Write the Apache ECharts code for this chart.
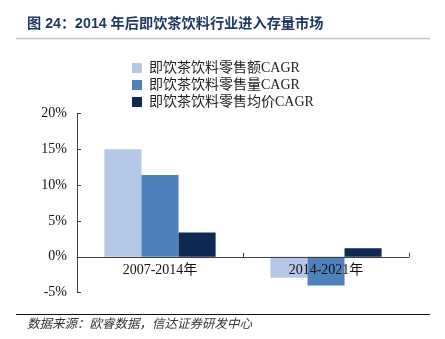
<!DOCTYPE html>
<html>
<head>
<meta charset="utf-8">
<script src="https://cdn.jsdelivr.net/npm/echarts@6/dist/echarts.min.js"></script>
<style>html,body{margin:0;padding:0;background:#fff;}#c{width:445px;height:339px;}</style>
</head>
<body>
<div id="c"></div>
<script>
const categories = ['2007-2014年', '2014-2021年'];
const seriesNames = ['即饮茶饮料零售额CAGR', '即饮茶饮料零售量CAGR', '即饮茶饮料零售均价CAGR'];
const retailValue = [15.0, -2.9];
const retailVolume = [11.4, -4.0];
const avgPrice = [3.4, 1.2];
const yTicks = [-5, 0, 5, 10, 15, 20];

const colors = ['#B4C7E7', '#4F81BD', '#0E2A52'];
const serif = '"Times New Roman", "Liberation Serif", "Noto Sans CJK SC", serif';
const chart = echarts.init(document.getElementById('c'), null, {renderer: 'canvas'});
const dataSets = [retailValue, retailVolume, avgPrice];

const gridTop = 113.3, gridBottom = 46.3, H = 339;
const yMin = yTicks[0], yMax = yTicks[yTicks.length - 1];
const plotH = H - gridTop - gridBottom;
const zeroOffset = -plotH * (0 - yMin) / (yMax - yMin);

chart.setOption({
  animation: false,
  backgroundColor: '#fff',
  grid: {left: 77, right: 36, top: gridTop, bottom: gridBottom, containLabel: false},
  legend: {
    orient: 'vertical', left: 127, top: 54.5,
    itemWidth: 10, itemHeight: 10, itemGap: 0,
    icon: 'rect',
    textStyle: {fontFamily: serif, fontSize: 14, color: '#222', lineHeight: 17, padding: [0, 0, 0, 2]},
    data: seriesNames
  },
  xAxis: {
    type: 'category', data: categories, z: 10,
    position: 'bottom', offset: zeroOffset,
    axisLine: {onZero: false, lineStyle: {color: '#404040', width: 1}},
    axisTick: {show: true, inside: true, length: 4, lineStyle: {color: '#404040'}},
    axisLabel: {fontFamily: serif, fontSize: 14, color: '#111', margin: 7}
  },
  yAxis: {
    type: 'value', min: yMin, max: yMax, interval: 5,
    splitLine: {show: false},
    axisLine: {show: true, lineStyle: {color: '#404040', width: 1}},
    axisTick: {show: true, inside: true, length: 4, lineStyle: {color: '#404040'}},
    axisLabel: {fontFamily: serif, fontSize: 14, color: '#111', margin: 10, formatter: '{value}%'}
  },
  series: seriesNames.map((n, i) => ({
    name: n, type: 'bar', data: dataSets[i],
    barGap: 0, barCategoryGap: '33%',
    itemStyle: {color: colors[i]}
  })),
  graphic: [
    {type: 'text', left: 27, top: 16.5, style: {text: '图 24：2014 年后即饮茶饮料行业进入存量市场', fontFamily: 'Arial, "Liberation Sans", "Noto Sans CJK SC", sans-serif', fontWeight: 'bold', fontSize: 14.2, fill: '#1F3864'}},
    {type: 'line', shape: {x1: 16, y1: 38.5, x2: 430, y2: 38.5}, style: {stroke: '#c4c4c4', lineWidth: 1.5}},
    {type: 'line', shape: {x1: 16, y1: 314.5, x2: 430, y2: 314.5}, style: {stroke: '#111', lineWidth: 1}},
    {type: 'text', left: 27, top: 317, style: {text: '数据来源：欧睿数据，信达证券研发中心', fontFamily: '"Noto Sans CJK SC", sans-serif', fontStyle: 'italic', fontSize: 12.5, fill: '#333'}}
  ]
});
</script>
</body>
</html>
